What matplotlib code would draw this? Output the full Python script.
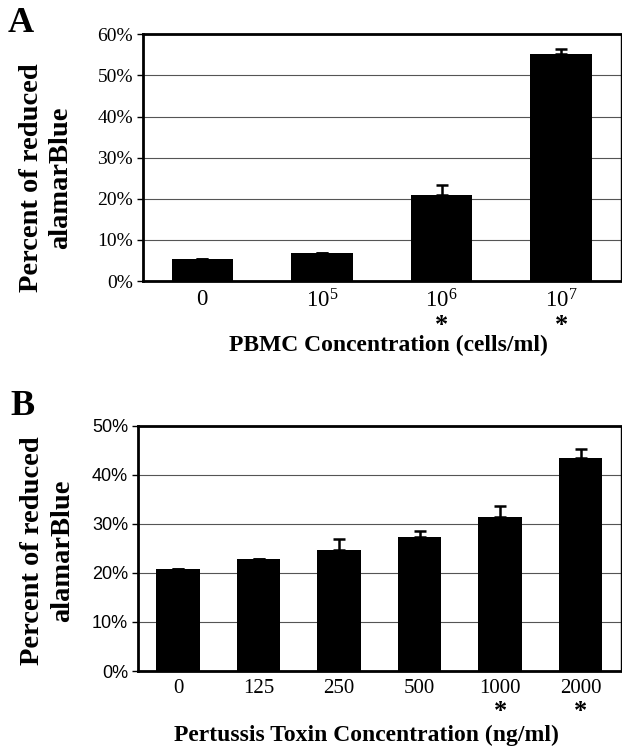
"""Two bar panels: alamarBlue reduction vs PBMC and vs pertussis toxin."""

import matplotlib
matplotlib.use("Agg")
import matplotlib.pyplot as plt
from matplotlib.ticker import FuncFormatter

plt.rcParams["font.family"] = ["Liberation Serif", "DejaVu Serif"]
plt.rcParams["mathtext.fontset"] = "custom"
plt.rcParams["mathtext.rm"] = "Liberation Serif"

# panel A
pbmc_labels = [r"$\mathregular{0}$", r"$\mathregular{10^5}$",
               r"$\mathregular{10^6}$", r"$\mathregular{10^7}$"]
pbmc_values = [5.3, 6.7, 21.0, 55.3]
pbmc_err = [0.0, 0.0, 2.4, 1.1]
pbmc_signif = [False, False, True, True]

# panel B
ptx_labels = ["0", "125", "250", "500", "1000", "2000"]
ptx_values = [20.8, 22.9, 24.6, 27.3, 31.4, 43.5]
ptx_err = [0.0, 0.0, 2.3, 1.3, 2.3, 1.8]
ptx_signif = [False, False, False, False, True, True]

fig = plt.figure(figsize=(6.22, 7.49), dpi=100)


def draw_panel(ax, labels, values, err, signif, ymax, width, tick_font,
               ytick_size, xtick_size, xlabel, star_off, xlabel_pos):
    x = range(len(values))
    lower = [0] * len(values)
    ax.bar(x, values, width=width, color="black", zorder=3,
           yerr=[lower, err], capsize=4.5,
           error_kw=dict(elinewidth=1.8, capthick=1.8, ecolor="black", zorder=4))
    ax.set_xlim(-0.5, len(values) - 0.5)
    ax.set_ylim(0, ymax)
    ax.set_yticks(range(0, ymax + 1, 10))
    ax.yaxis.set_major_formatter(FuncFormatter(lambda v, p: f"{v:.0f}%"))
    ax.grid(axis="y", color="#555555", linewidth=0.8, zorder=0)
    ax.set_xticks(list(x))
    ax.set_xticklabels(labels, fontsize=xtick_size)
    ax.tick_params(axis="x", length=0, pad=6)
    ax.tick_params(axis="y", length=4, width=1, pad=3)
    for lab in ax.get_yticklabels():
        lab.set_family(tick_font)
        lab.set_fontsize(ytick_size)
    for side in ["top", "left", "bottom"]:
        ax.spines[side].set_linewidth(2.0)
    ax.spines["right"].set_linewidth(1.0)
    for i, s in enumerate(signif):
        if s:
            ax.annotate("*", xy=(i, 0), xycoords=("data", "axes fraction"),
                        xytext=(0, -star_off), textcoords="offset points",
                        ha="center", va="center", fontsize=19, fontweight="bold")
    ax.annotate(xlabel, xy=xlabel_pos, xycoords="axes fraction",
                ha="center", va="center", fontsize=17, fontweight="bold")


axA = fig.add_axes([0.2294, 0.6248, 0.769, 0.3294])
draw_panel(axA, pbmc_labels, pbmc_values, pbmc_err, pbmc_signif, 60, 0.515,
           ["Liberation Serif", "DejaVu Serif"], 14, 16.5,
           "PBMC Concentration (cells/ml)", 32, (0.513, -0.262))
axA.set_ylabel("Percent of reduced\nalamarBlue", fontsize=20.5,
               fontweight="bold", linespacing=1.25, va="center")
axA.yaxis.set_label_coords(-0.202, 0.42)

axB = fig.add_axes([0.2214, 0.1041, 0.777, 0.3275])
draw_panel(axB, ptx_labels, ptx_values, ptx_err, ptx_signif, 50, 0.54,
           ["Liberation Sans Narrow", "Liberation Sans", "DejaVu Sans"], 13, 15,
           "Pertussis Toxin Concentration (ng/ml)", 29, (0.473, -0.262))
axB.set_ylabel("Percent of reduced\nalamarBlue", fontsize=20.5,
               fontweight="bold", linespacing=1.25, va="center")
axB.yaxis.set_label_coords(-0.186, 0.49)

fig.text(0.012, 0.969, "A", fontsize=26, fontweight="bold", va="center")
fig.text(0.016, 0.457, "B", fontsize=26, fontweight="bold", va="center")

fig.savefig("out.png", dpi=100)
